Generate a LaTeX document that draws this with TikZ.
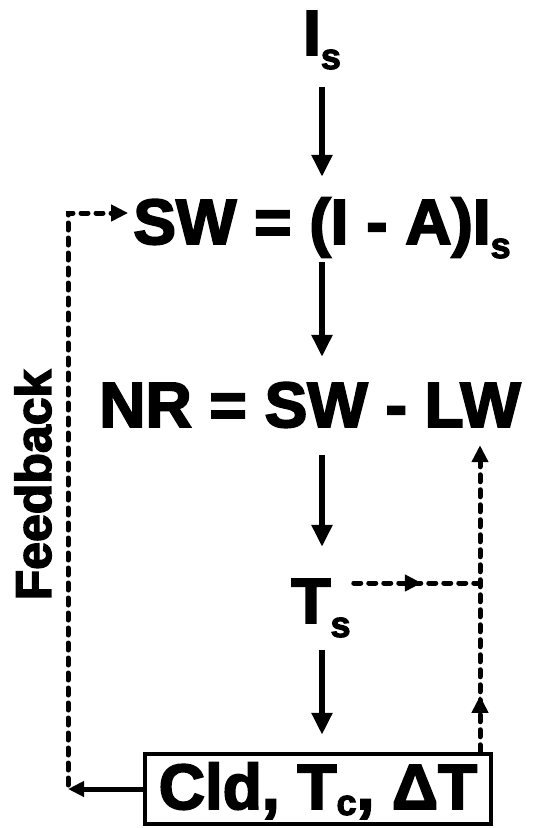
\documentclass[tikz,border=0pt]{standalone}
\usepackage{fontspec}
\setmainfont{Liberation Sans}
\newfontfamily\heavy{Liberation Sans Bold}[FakeBold=3]
\usetikzlibrary{arrows.meta,decorations.markings,calc}

% lowered small subscript letter
\newcommand{\lowsub}[2][14pt]{\raisebox{-#1}{\fontsize{36}{36}\selectfont #2}}

\tikzset{
  eqtext/.style={font=\heavy\fontsize{64}{64}\selectfont, inner sep=0pt,
                 text height=46pt, text depth=14pt, anchor=base},
  flow/.style={line width=6pt, -{Triangle[length=22pt,width=20pt]}},
  flowsmall/.style={line width=5pt, -{Triangle[length=16pt,width=15pt]}},
  dashflow/.style={line width=5pt, dash pattern=on 7pt off 8pt, line cap=round},
  dashtip/.style={-{Triangle[length=17pt,width=16pt]}},
  midtip/.style={postaction={decorate, decoration={markings,
      mark=at position #1 with {\arrow{Triangle[length=17pt,width=16pt]}}}}}
}

\begin{document}
\begin{tikzpicture}[x=1pt, y=-1pt]
  \useasboundingbox[fill=white] (0,0) rectangle (534,828);

  % column of the main chain and helper points
  \coordinate (col)   at (322,0);
  \coordinate (j)     at (480,583);
  \coordinate (fbtop) at (68,213);

  % equations
  \node[eqtext] (Is) at (322,55)  {I\lowsub{s}};
  \node[eqtext] (SW) at (322,244) {SW = (I - A)I\lowsub{s}};
  \node[eqtext] (NR) at (310,427) {NR = SW - LW};
  \node[eqtext] (Ts) at (321,623) {T\lowsub{s}};
  \node[eqtext, draw, line width=4.5pt, inner xsep=14pt, text height=55pt,
        text depth=15pt] (box) at (318,809) {Cld, T\lowsub[6pt]{c}, ΔT};

  \node[font=\heavy\fontsize{50}{50}\selectfont, rotate=90, inner sep=0pt]
        (fbtext) at (33,485) {Feedback};

  % main downward chain
  \draw[flow, shorten <=18pt, shorten >=21pt] (Is.south -| col) -- (SW.north -| col);
  \draw[flow, shorten <=4pt,  shorten >=24pt] (SW.south -| col) -- (NR.north -| col);
  \draw[flow, shorten <=14pt, shorten >=30pt] (NR.south -| col) -- (Ts.north -| col);
  \draw[flow, shorten <=13pt, shorten >=17pt] (Ts.south -| col) -- (box.north -| col);

  % surface temperature and cloud influence on longwave
  \draw[dashflow, midtip=0.55, shorten <=3pt] (j -| Ts.east) -- (j);
  \draw[dashflow, dashtip, midtip=0.18, shorten >=4pt] (box.north -| j) -- (j |- NR.south);

  % feedback loop
  \draw[flowsmall] (box.west) -- (box.west -| fbtop);
  \draw[dashflow, dashtip, shorten <=4pt, shorten >=5pt]
        (box.west -| fbtop) -- (fbtop) -- (fbtop -| SW.west);
\end{tikzpicture}
\end{document}
